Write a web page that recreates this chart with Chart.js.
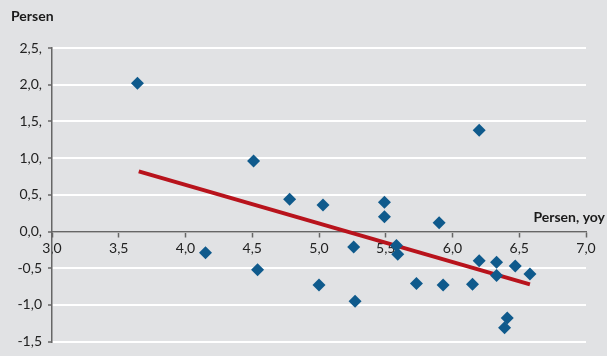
<!DOCTYPE html>
<html>
<head>
<meta charset="utf-8">
<script src="https://cdn.jsdelivr.net/npm/chart.js@4/dist/chart.umd.min.js"></script>
<style>
  html, body { margin: 0; padding: 0; background: #e1e2e4; }
  #wrap { width: 607px; height: 356px; }
</style>
</head>
<body>
<div id="wrap"><canvas id="chart"></canvas></div>
<script>
// scatter points: x = Persen, yoy ; y = Persen
const xValues = [3.64, 4.15, 4.51, 4.54, 4.78, 5.03, 5.00, 5.26, 5.27, 5.49, 5.49, 5.58, 5.59,
                 5.73, 5.90, 5.93, 6.20, 6.20, 6.15, 6.33, 6.33, 6.47, 6.58, 6.41, 6.39];
const yValues = [2.02, -0.29, 0.96, -0.52, 0.44, 0.36, -0.73, -0.21, -0.95, 0.40, 0.20, -0.19, -0.31,
                 -0.71, 0.12, -0.73, 1.38, -0.40, -0.72, -0.42, -0.60, -0.47, -0.58, -1.18, -1.31];

// trend line end points
const trendX = [3.65, 6.58];
const trendY = [0.82, -0.72];

const xTicks = [3.0, 3.5, 4.0, 4.5, 5.0, 5.5, 6.0, 6.5, 7.0];
const xTickLabels = ['3,0', '3,5', '4,0', '4,5', '5,0', '5,5', '6,0', '6,5', '7,0'];
const yTicks = [2.5, 2.0, 1.5, 1.0, 0.5, 0.0, -0.5, -1.0, -1.5];
const yTickLabels = ['2,5,', '2,0,', '1,5,', '1,0,', '0,5,', '0,0,', '-0,5', '-1,0', '-1,5'];

const FONT = 'Lato, "Open Sans", sans-serif';

const points = xValues.map((x, i) => ({ x: x, y: yValues[i] }));
const trend = trendX.map((x, i) => ({ x: x, y: trendY[i] }));

const labelFor = (ticks, labels, v) => {
  const i = ticks.findIndex(t => Math.abs(t - v) < 1e-6);
  return i >= 0 ? labels[i] : '';
};

const bg = {
  id: 'bg',
  beforeDraw(chart) {
    const c = chart.ctx;
    c.save();
    c.fillStyle = '#e1e2e4';
    c.fillRect(0, 0, chart.width, chart.height);
    c.restore();
  }
};

const texts = {
  id: 'texts',
  afterDraw(chart) {
    const c = chart.ctx;
    c.save();
    c.fillStyle = '#1a1a1a';
    c.font = 'bold 14px ' + FONT;
    c.textBaseline = 'middle';
    c.textAlign = 'left';
    c.fillText('Persen', 11, 16);
    c.textAlign = 'right';
    c.fillText('Persen, yoy', 605, 217);
    c.restore();
  }
};

new Chart(document.getElementById('chart'), {
  type: 'scatter',
  data: {
    datasets: [
      {
        data: trend,
        type: 'line',
        borderColor: '#b8131c',
        borderWidth: 4,
        pointRadius: 0,
        fill: false,
        order: 2
      },
      {
        data: points,
        pointStyle: 'rectRot',
        pointRadius: 6.5,
        backgroundColor: '#0f5a8c',
        borderColor: '#0f5a8c',
        borderWidth: 0,
        order: 1
      }
    ]
  },
  options: {
    responsive: true,
    maintainAspectRatio: false,
    animation: false,
    layout: { padding: { left: 0, right: 21, top: 48, bottom: 13 } },
    plugins: { legend: { display: false }, tooltip: { enabled: false } },
    scales: {
      x: {
        type: 'linear',
        position: { y: 0 },
        min: 3, max: 7,
        afterBuildTicks: s => { s.ticks = xTicks.map(v => ({ value: v })); },
        ticks: {
          color: '#222',
          font: { family: FONT, size: 14 },
          padding: 4,
          maxRotation: 0,
          callback: v => labelFor(xTicks, xTickLabels, v)
        },
        grid: { drawOnChartArea: false, drawTicks: true, tickLength: 5, tickColor: '#666', tickWidth: 1.5 },
        border: { color: '#666', width: 1.5 }
      },
      y: {
        type: 'linear',
        min: -1.5, max: 2.5,
        afterFit: s => { s.width = 52; },
        afterBuildTicks: s => { s.ticks = yTicks.map(v => ({ value: v })); },
        ticks: {
          color: '#222',
          font: { family: FONT, size: 14 },
          padding: 6,
          callback: v => labelFor(yTicks, yTickLabels, v)
        },
        grid: { color: '#ffffff', lineWidth: 2, tickLength: 4, tickColor: '#666', tickWidth: 1.5 },
        border: { color: '#666', width: 1.5 }
      }
    }
  },
  plugins: [bg, texts]
});
</script>
</body>
</html>
